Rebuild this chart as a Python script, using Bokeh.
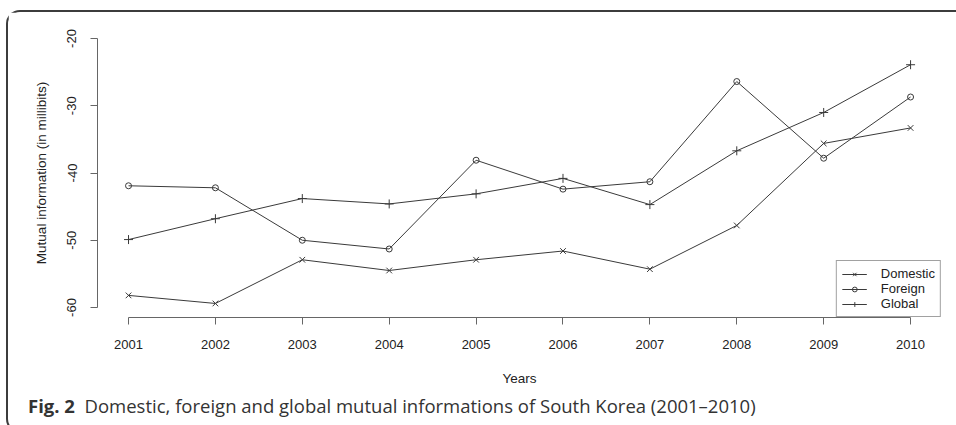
from bokeh.plotting import figure
from bokeh.layouts import column
from bokeh.models import FixedTicker, Legend, LegendItem, Range1d, Div
from bokeh.embed import file_html
from bokeh.resources import INLINE

# ---- data ----
years = [2001, 2002, 2003, 2004, 2005, 2006, 2007, 2008, 2009, 2010]
domestic = [-58.2, -59.4, -52.9, -54.5, -52.9, -51.6, -54.3, -47.8, -35.6, -33.3]
foreign = [-41.9, -42.2, -50.0, -51.3, -38.1, -42.4, -41.3, -26.4, -37.8, -28.7]
global_mi = [-49.9, -46.8, -43.8, -44.6, -43.1, -40.8, -44.7, -36.7, -31.0, -23.9]
y_ticks = [-60, -50, -40, -30, -20]
series_names = ["Domestic", "Foreign", "Global"]
x_title = "Years"
y_title = "Mutual information (in millibits)"
caption_bold = "Fig. 2"
caption_text = "Domestic, foreign and global mutual informations of South Korea (2001\u20132010)"

INK = "#3a3a3a"
AXIS = "#666666"
FONT = "Liberation Sans"

p = figure(
    width=944, height=380,
    output_backend="svg", toolbar_location=None,
    x_range=Range1d(2000.643, 2010.356),
    y_range=Range1d(-61.487, -18.513),
    min_border_left=89, min_border_right=11,
    min_border_top=16, min_border_bottom=75,
)
p.outline_line_color = None
p.xgrid.visible = False
p.ygrid.visible = False
p.background_fill_color = "white"
p.border_fill_color = "white"

# axes (R style: lines only span the tick range)
p.xaxis.ticker = FixedTicker(ticks=years)
p.xaxis.bounds = (years[0], years[-1])
p.yaxis.ticker = FixedTicker(ticks=y_ticks)
p.yaxis.bounds = (min(y_ticks), max(y_ticks))
p.yaxis.major_label_overrides = {t: str(t) for t in y_ticks}
for ax in (p.xaxis[0], p.yaxis[0]):
    ax.major_tick_out = 7
    ax.major_tick_in = 0
    ax.minor_tick_out = 0
    ax.minor_tick_in = 0
    ax.axis_line_color = AXIS
    ax.major_tick_line_color = AXIS
    ax.major_label_text_font = FONT
    ax.major_label_text_font_size = "13px"
    ax.major_label_text_color = "#222222"
    ax.axis_label_text_font = FONT
    ax.axis_label_text_font_size = "13.5px"
    ax.axis_label_text_font_style = "normal"
    ax.axis_label_text_color = "#222222"
p.xaxis.axis_label = x_title
p.yaxis.axis_label = y_title
p.yaxis.major_label_orientation = "vertical"
p.xaxis.major_label_standoff = 15
p.yaxis.major_label_standoff = 14
p.xaxis.axis_label_standoff = 19
p.yaxis.axis_label_standoff = 16

# series
specs = [
    (series_names[0], domestic, "x", 8),
    (series_names[1], foreign, "circle", 6),
    (series_names[2], global_mi, "cross", 9),
]
items = []
for name, vals, marker, size in specs:
    rl = p.line(years, vals, line_color=INK, line_width=1)
    rp = p.scatter(years, vals, marker=marker, size=size, line_color=INK,
                   fill_color=None, line_width=1)
    items.append(LegendItem(label=name, renderers=[rl, rp]))

legend = Legend(items=items, location="bottom_right")
legend.margin = 0
legend.padding = 5
legend.spacing = 0
legend.label_text_font = FONT
legend.label_text_font_size = "13px"
legend.label_text_color = "#222222"
legend.label_standoff = 14
legend.glyph_width = 25
legend.glyph_height = 12
legend.label_height = 12
legend.border_line_color = "#444444"
legend.border_line_width = 1
legend.background_fill_color = "white"
legend.background_fill_alpha = 1.0
p.add_layout(legend)

# caption
cap = Div(
    text=(
        '<div style="padding-left:15px; line-height:17px; font-family:\'Open Sans\'; '
        'font-size:18.5px; color:#333333; white-space:nowrap;">'
        f'<b>{caption_bold}</b>&nbsp; {caption_text}</div>'
    ),
    width=944, height=29,
)

page = column(
    p, cap,
    margin=(10, 0, 0, 6),
    styles={
        "border-left": "2px solid #3c3c3c",
        "border-top": "2px solid #3c3c3c",
        "border-bottom": "2px solid #3c3c3c",
        "border-top-left-radius": "14px",
        "border-bottom-left-radius": "14px",
    },
)

open("out.html", "w").write(file_html(page, INLINE))
